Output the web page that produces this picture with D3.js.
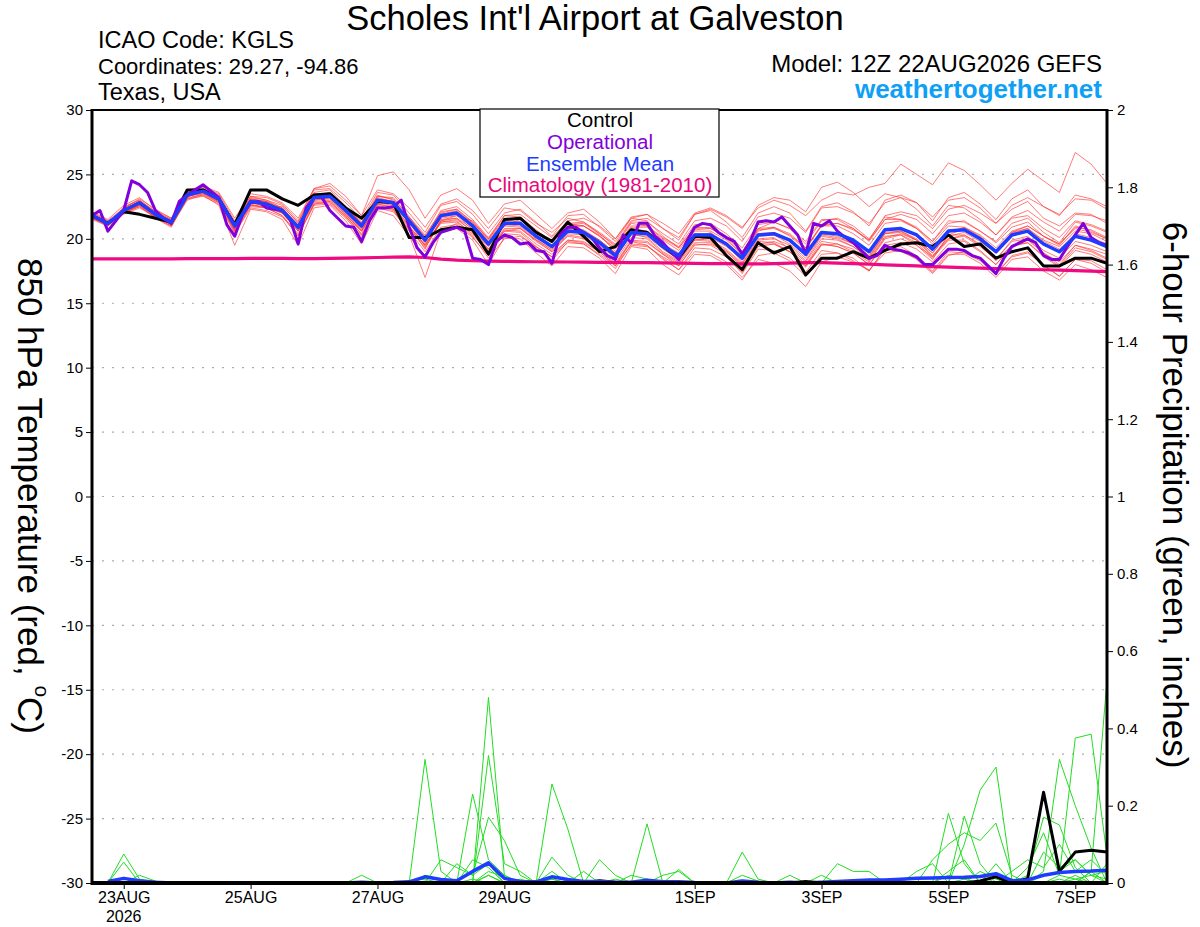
<!DOCTYPE html>
<html>
<head>
<meta charset="utf-8">
<title>KGLS GEFS 850 hPa temperature</title>
<script src="https://cdn.jsdelivr.net/npm/d3@7/dist/d3.min.js"></script>
<style>
  body { margin: 0; background: #fff; }
  svg { font-family: "Liberation Sans", Arial, Helvetica, sans-serif; }
</style>
</head>
<body>
<svg id="chart" width="1200" height="927"></svg>
<script>
// ---- data (6-hourly from 12Z 22AUG2026, operational is 3-hourly) ----
var runStart = Date.UTC(2026, 7, 22, 12);
var runEnd = Date.UTC(2026, 8, 7, 12);
var tempTicks = [-30, -25, -20, -15, -10, -5, 0, 5, 10, 15, 20, 25, 30];
var precipTicks = [0, 0.2, 0.4, 0.6, 0.8, 1, 1.2, 1.4, 1.6, 1.8, 2];
var dateTicks = [[2026, 7, 23], [2026, 7, 25], [2026, 7, 27], [2026, 7, 29],
                 [2026, 8, 1], [2026, 8, 3], [2026, 8, 5], [2026, 8, 7]];
var legendItems = ["Control", "Operational", "Ensemble Mean", "Climatology (1981-2010)"];

var controlT = [21.8,21.2,22.1,21.9,21.6,21.3,23.8,23.8,23.1,21.1,23.8,23.8,23.1,22.6,23.4,23.5,22.4,21.6,22.9,22.8,20.1,20.1,
  20.7,20.9,20.7,18.8,21.5,21.6,20.5,19.8,21.3,20.2,19.0,19.4,20.7,20.5,19.4,18.5,20.2,20.1,18.7,17.6,19.7,
  18.9,19.4,17.2,18.5,18.5,19.0,18.5,19.1,19.6,19.7,19.4,20.3,19.4,19.6,18.5,19.0,19.3,17.9,17.9,18.5,18.5,18.1];

var operationalT = [21.8,22.2,20.6,21.4,22.2,24.5,24.2,23.6,22.2,21.6,21.2,22.9,23.4,23.8,24.2,23.7,23.2,21.1,20.2,21.9,
  22.8,22.9,22.4,22.3,22.2,21.5,19.6,22.4,23.2,23.2,22.2,21.6,21.0,20.9,19.8,21.4,22.4,22.4,22.5,23.0,20.9,19.3,18.6,
  19.7,20.5,20.7,20.9,20.6,18.5,18.4,18.0,19.8,20.3,20.1,19.6,19.7,19.1,19.0,18.1,20.3,20.9,20.9,20.5,20.1,19.3,18.7,
  18.4,20.3,19.7,21.2,21.2,20.2,19.7,19.0,18.4,19.8,20.9,21.2,21.1,20.5,20.1,19.8,18.8,19.8,21.3,
  21.4,21.3,21.7,21.0,20.3,18.8,21.2,21.0,21.4,20.6,20.1,19.7,19.1,18.5,18.7,19.5,19.2,19.1,18.9,18.6,18.0,18.0,
  18.6,19.2,19.2,19.1,18.7,18.5,17.9,17.3,18.5,19.4,19.7,20.0,19.7,18.7,18.4,18.4,19.4,20.3,21.2,20.1,19.7,19.5];

var meanT = [21.8,21.2,22.2,22.8,21.9,21.3,23.4,23.7,23.1,21.0,22.9,22.7,22.2,20.9,23.2,23.3,22.2,21.0,23.0,22.8,21.4,19.9,
  21.8,22.0,21.0,19.6,21.2,21.2,20.2,19.4,20.6,20.5,19.7,18.7,20.5,20.4,19.4,18.7,20.3,20.3,19.6,18.5,20.3,
  20.4,19.9,18.8,20.5,20.4,19.9,19.0,20.7,20.8,20.3,19.2,20.6,20.7,20.0,19.0,20.3,20.6,19.6,19.0,20.2,19.9,19.4];

var climatologyT = [18.45,18.45,18.45,18.45,18.45,18.45,18.46,18.46,18.47,18.47,
  18.48,18.48,18.48,18.47,18.47,18.48,18.5,18.52,18.55,18.58,
  18.6,18.55,18.42,18.34,18.3,18.27,18.25,18.23,18.22,18.21,
  18.2,18.19,18.18,18.17,18.16,18.15,18.14,18.12,18.1,18.08,
  18.07,18.05,18.05,18.08,18.12,18.15,18.15,18.12,18.08,18.03,
  17.98,17.94,17.9,17.85,17.8,17.76,17.72,17.68,17.65,17.62,
  17.6,17.57,17.53,17.49,17.45];

var memberT = [
  [21.6,21.0,22.5,23.0,22.1,21.5,23.8,24.0, 23.5,21.4,23.3,23.0,22.6,21.2,23.8,23.9, 22.8,21.5,23.6,23.4,22.0,20.5,22.6,22.9,
   21.9,20.4,22.0,22.3,21.3,20.2,21.8,21.9, 20.9,19.8,21.6,21.9,20.8,19.9,21.9,22.2, 21.3,20.1,22.0,22.5,22.0,20.6,22.5,22.8,
   22.1,21.0,23.0,23.4,22.8,21.4,23.2,23.6, 22.7,21.5,23.1,23.8,22.5,21.8,23.4,23.1, 22.5],
  [22.0,21.4,22.0,22.5,21.6,21.0,23.1,23.3, 22.7,20.4,22.4,22.2,21.7,20.3,22.6,22.7, 21.6,20.2,22.4,22.1,20.6,19.0,20.9,21.1,
   20.1,18.7,20.4,20.3,19.3,18.3,19.8,19.6, 18.7,17.7,19.6,19.5,18.5,17.6,19.3,19.2, 18.6,17.3,19.2,19.1,18.5,17.4,19.1,18.9,
   18.3,17.5,19.2,19.0,18.5,17.4,18.8,18.8, 18.1,17.0,18.4,18.6,17.5,16.8,18.0,17.6, 17.0],
  [21.7,21.1,22.4,23.1,22.3,21.6,23.5,23.6, 22.9,20.6,22.6,22.5,22.5,21.3,23.6,23.8, 22.5,21.2,23.1,22.9,21.3,19.4,21.4,21.8,
   21.4,20.0,21.8,21.9,21.0,20.1,21.4,21.6, 21.0,20.0,21.7,21.9,21.2,20.4,22.0,22.4, 21.8,20.9,22.4,23.0,22.6,21.8,23.0,23.6,
   23.4,24.0,24.3,25.8,25.0,24.2,25.9,25.3, 24.2,23.0,24.3,25.4,24.5,23.6,26.7,25.8, 24.3],
  [21.9,21.3,22.1,22.6,21.8,21.2,23.2,23.9, 23.3,20.8,23.0,22.9,22.0,20.6,23.0,23.2, 22.0,20.7,22.8,22.6,21.0,19.2,21.5,21.6,
   20.8,19.2,21.0,21.5,20.5,19.9,21.2,21.0, 20.3,19.0,20.8,20.6,19.7,18.6,20.0,20.5, 19.6,18.2,20.0,20.1,19.2,18.0,19.8,19.6,
   19.0,18.2,20.0,20.3,19.5,18.4,20.3,20.8, 20.1,18.9,20.5,21.0,20.2,19.5,21.0,20.6, 20.0],
  [21.5,21.0,21.9,22.4,21.7,21.0,23.0,23.4, 22.8,20.5,22.5,22.4,21.8,20.2,22.7,22.9, 21.8,20.3,22.5,22.3,20.3,17.0,20.6,21.2,
   20.2,18.5,20.0,20.2,19.4,18.6,19.9,19.8, 19.0,18.0,19.8,19.7,18.8,17.9,19.6,19.5, 18.8,17.4,19.4,19.6,19.0,17.8,19.5,19.6,
   19.2,18.3,20.1,20.4,19.9,18.6,20.0,20.3, 19.6,18.4,19.8,20.0,18.9,18.2,19.5,19.2, 18.8],
  [22.1,21.5,22.6,23.2,22.2,21.6,23.7,24.1, 23.6,21.6,23.5,23.3,22.8,21.6,23.9,24.1, 23.0,21.8,23.8,23.5,22.4,20.9,22.7,23.1,
   22.2,20.8,22.4,22.2,21.2,20.5,21.6,21.3, 20.4,19.4,21.2,21.0,20.0,19.3,20.9,20.8, 20.2,19.0,20.8,21.3,20.8,19.6,21.4,21.6,
   21.0,20.0,21.7,21.5,20.9,19.8,21.4,21.3, 20.6,19.8,21.2,21.6,20.5,19.7,21.3,21.0, 20.5],
  [21.8,21.2,22.0,22.7,21.8,21.1,23.3,23.5, 22.9,20.7,22.8,22.6,22.0,20.7,22.9,23.0, 21.9,20.6,22.6,22.3,20.8,19.3,21.3,21.5,
   20.6,19.0,20.7,20.6,19.6,18.8,19.9,19.7, 19.0,17.9,19.8,19.5,18.4,17.6,19.0,18.9, 18.2,17.0,18.4,18.1,17.5,16.3,18.2,18.6,
   18.2,17.6,18.9,19.1,18.4,17.3,18.7,19.0, 18.5,17.4,18.6,18.9,18.0,17.1,18.4,18.3, 17.6],
  [21.6,21.2,22.3,22.9,22.0,21.4,23.6,23.8, 23.2,21.3,23.3,23.2,22.7,21.4,23.9,24.3, 23.3,21.8,24.9,25.2,23.8,21.6,23.4,23.9,
   23.0,21.2,22.7,23.0,21.9,20.8,22.0,22.3, 21.3,20.0,21.6,21.4,20.2,19.3,20.8,20.9, 20.0,18.8,20.6,20.9,20.2,19.2,21.0,21.2,
   20.8,19.9,21.5,21.9,21.5,20.4,21.8,22.0, 21.3,20.3,21.7,22.2,21.3,20.6,21.9,21.8, 21.4],
  [21.9,21.3,22.2,22.8,21.9,21.4,23.3,23.7, 23.0,20.9,23.0,22.6,22.1,20.8,23.1,23.2, 22.0,20.8,22.9,22.7,21.3,19.7,21.6,21.8,
   20.7,19.4,21.0,20.9,19.9,19.0,20.3,20.1, 19.2,18.3,20.1,20.0,18.9,18.2,19.9,19.8, 19.1,18.0,19.9,20.0,19.5,18.3,20.2,20.0,
   19.4,18.6,20.4,20.5,19.9,18.7,20.0,20.2, 19.4,18.4,19.9,20.2,19.1,18.5,19.8,19.5, 19.0],
  [21.7,21.1,22.3,22.9,22.0,21.3,23.5,23.8, 23.1,21.1,23.1,22.9,22.4,21.0,23.4,23.6, 22.4,21.2,23.3,23.2,21.7,20.1,22.2,22.5,
   21.5,20.1,21.8,21.7,20.7,19.8,21.1,21.2, 20.4,19.5,21.3,21.3,20.4,19.6,21.4,21.6, 21.0,19.8,21.7,22.0,21.6,20.5,22.4,22.5,
   22.0,21.2,22.8,23.2,22.8,21.7,23.0,23.2, 22.4,21.2,22.3,22.9,21.6,21.0,22.0,21.9, 21.2],
  [21.8,21.3,22.1,22.7,21.7,21.2,23.4,23.6, 23.0,20.6,22.7,22.4,22.0,20.6,22.8,22.9, 21.7,20.4,22.5,22.2,20.7,19.5,21.3,21.4,
   20.3,19.0,20.6,20.8,19.9,19.2,20.5,20.6, 19.8,18.8,20.4,20.1,19.0,18.3,19.9,20.1, 19.4,18.4,20.2,20.3,19.6,18.5,20.3,20.1,
   19.6,18.5,20.4,20.6,19.9,18.9,20.5,20.9, 20.3,19.3,20.6,21.0,20.2,19.6,20.9,20.7, 20.1],
  [21.7,21.0,22.1,22.6,21.6,20.9,23.2,23.4, 22.6,19.5,22.3,22.1,21.5,19.5,22.4,22.6, 21.4,19.6,22.2,21.8,20.2,18.6,20.7,20.8,
   19.9,18.0,20.1,20.0,18.9,17.9,19.4,19.3, 18.5,17.3,19.4,19.2,18.0,17.2,18.8,18.7, 18.0,16.8,18.7,18.9,18.3,17.1,18.8,18.9,
   18.5,17.5,19.3,19.4,18.7,17.5,19.0,18.9, 18.3,17.2,18.7,19.0,17.9,17.1,18.4,18.1, 17.4],
  [22.0,21.4,22.4,23.0,22.1,21.5,23.6,23.9, 23.4,21.2,23.2,23.0,22.4,21.1,23.5,23.5, 22.5,21.3,23.4,23.0,21.6,20.2,22.0,22.3,
   21.3,19.9,21.5,21.6,20.6,19.7,21.0,21.0, 20.2,19.2,20.9,20.9,19.9,19.1,20.7,20.8, 20.1,19.0,20.8,20.9,20.4,19.3,21.0,21.0,
   20.4,19.5,21.2,21.4,20.8,19.8,21.2,21.4, 20.6,19.7,20.9,21.3,20.2,19.6,20.8,20.5, 20.0],
  [21.6,21.1,22.0,22.5,21.7,21.1,23.1,23.5, 22.8,20.8,22.6,22.4,21.8,20.4,22.7,22.8, 21.7,20.6,22.7,22.4,20.9,19.6,21.2,21.3,
   20.4,19.2,20.6,20.5,19.4,18.6,19.7,19.6, 18.8,17.9,19.5,19.4,18.6,17.9,19.5,19.6, 19.0,17.9,19.6,19.6,19.0,17.9,19.6,19.4,
   18.9,18.0,19.5,19.7,19.2,18.2,19.6,19.8, 19.0,18.0,19.5,19.9,18.9,18.0,19.5,19.1, 18.5],
  [21.9,21.2,22.3,22.9,22.0,21.4,23.4,23.7, 23.1,21.0,22.9,22.8,22.3,21.0,23.3,23.5, 22.3,21.0,23.1,22.9,21.4,19.9,21.9,22.2,
   21.2,19.8,21.4,21.5,20.6,19.8,21.2,21.3, 20.5,19.6,21.4,21.6,20.8,20.1,21.9,22.3, 21.7,20.8,22.6,23.2,23.0,22.1,24.0,24.4,
   23.6,22.5,23.5,23.2,22.3,21.0,22.6,22.4, 21.5,20.3,21.6,21.8,20.8,20.1,21.4,21.1, 20.6],
  [21.8,21.2,22.2,22.8,21.9,21.3,23.3,23.6, 23.0,20.9,22.9,22.6,22.1,20.8,23.1,23.2, 22.1,20.9,22.9,22.7,21.2,19.8,21.7,21.9,
   20.9,19.5,21.1,21.0,20.0,19.1,20.4,20.3, 19.5,18.5,20.3,20.2,19.2,18.4,20.0,19.9, 19.2,18.1,19.8,19.7,19.0,17.9,19.6,19.4,
   18.9,18.0,19.7,20.0,19.5,18.6,20.2,20.5, 19.8,18.9,20.4,20.8,19.9,19.4,20.6,20.4, 19.8],
  [21.7,21.1,22.0,22.6,21.8,21.2,23.4,23.8, 23.2,21.1,23.1,22.9,22.3,20.9,23.2,23.4, 22.2,21.0,23.0,22.8,21.5,20.0,21.9,22.1,
   21.1,19.7,21.3,21.2,20.2,19.4,20.7,20.6, 19.9,18.9,20.6,20.5,19.6,18.8,20.4,20.4, 19.7,18.5,20.4,20.5,19.9,18.7,20.4,20.2,
   19.6,18.7,20.5,20.6,20.0,18.9,20.3,20.3, 19.5,18.3,19.5,19.7,18.6,17.8,19.1,18.8, 18.2],
  [21.8,21.3,22.3,22.9,22.0,21.4,23.5,23.8, 23.2,21.2,23.1,22.8,22.3,21.0,23.3,23.4, 22.3,21.1,23.2,22.9,21.5,20.0,21.9,22.0,
   21.0,19.7,21.3,21.3,20.3,19.5,20.8,20.7, 19.9,18.9,20.7,20.6,19.6,18.9,20.6,20.6, 19.9,18.8,20.7,20.8,20.3,19.3,21.1,21.2,
   20.7,19.9,21.8,22.1,21.8,20.8,22.3,22.6, 22.0,21.2,22.6,23.2,22.5,21.9,23.1,23.0, 22.3],
  [21.9,21.2,22.1,22.7,21.9,21.3,23.3,23.6, 22.9,20.8,22.8,22.5,22.0,20.6,23.0,23.1, 21.9,20.6,22.7,22.5,21.0,19.5,21.4,21.6,
   20.5,19.1,20.8,20.8,19.8,19.0,20.2,20.0, 19.1,18.1,19.9,19.8,18.8,18.1,19.7,19.7, 19.0,17.8,19.6,19.8,19.3,18.2,20.0,19.9,
   19.4,18.4,20.2,20.3,19.7,18.5,19.9,19.9, 19.1,18.0,19.4,19.7,18.7,17.9,19.3,19.0, 18.4],
  [21.7,21.2,22.2,22.8,22.0,21.3,23.5,23.7, 23.1,21.0,22.9,22.8,22.3,21.0,23.4,23.5, 22.4,21.2,23.3,23.1,21.7,20.3,22.1,22.3,
   21.3,20.0,21.6,21.5,20.5,19.7,21.0,21.0, 20.2,19.3,21.0,21.0,20.1,19.4,21.1,21.2, 20.4,19.3,21.1,21.3,20.8,19.8,21.5,21.5,
   20.8,19.8,21.5,21.5,20.8,19.6,21.0,20.9, 20.2,19.1,20.5,20.8,19.8,19.2,20.4,20.1, 19.6]
];

// 6-hour precipitation, inches (index 0 = analysis, not drawn)
var memberP = [
  [0,0,0.075,0.01,0,0,0,0,0,0, 0,0,0,0,0,0,0,0,0,0, 0,0.32,0.03,0,0,0.02,0,0,0,0.01, 0,0,0,0,0,0,0,0,0,0,
   0,0,0,0,0,0,0,0,0,0, 0,0,0,0,0.02,0.01,0,0.05,0,0, 0.03,0.32,0.2,0.09,0],
  [0,0,0.054,0,0,0,0,0,0,0, 0,0,0,0,0,0,0,0,0,0, 0,0,0,0,0.23,0.06,0.02,0,0,0, 0,0,0,0.01,0,0,0,0,0,0,
   0,0,0,0,0,0,0.02,0,0,0, 0,0,0,0,0,0.1,0.24,0.3,0.01,0, 0,0,0.02,0,0],
  [0,0,0,0.02,0.005,0,0,0,0,0, 0,0,0,0,0,0,0,0,0,0, 0,0,0,0,0,0.48,0.02,0,0,0.067, 0.02,0,0,0,0,0,0,0,0,0,
   0,0,0,0,0,0,0,0,0,0, 0,0,0,0,0,0,0,0,0,0, 0,0.02,0.375,0.385,0.07],
  [0,0,0,0,0,0,0,0,0,0, 0,0,0,0,0,0,0,0,0,0, 0,0,0,0,0,0.33,0.05,0.03,0,0, 0,0,0,0,0,0,0,0,0,0,
   0,0.08,0.01,0,0,0,0,0,0,0, 0,0,0,0,0.18,0.05,0,0,0,0.02, 0.17,0.15,0.04,0,0],
  [0,0,0,0,0,0,0,0,0,0, 0,0,0,0,0,0,0,0,0,0, 0,0,0.06,0.04,0.02,0.17,0.11,0.02,0,0, 0,0,0,0,0,0.153,0,0.035,0,0,
   0,0,0,0,0,0,0,0,0,0, 0,0,0,0,0,0.173,0.05,0,0,0, 0,0,0,0.03,0.525],
  [0,0,0,0,0,0,0,0,0,0, 0,0,0,0,0,0,0,0,0,0, 0,0,0,0,0,0,0,0,0,0.256, 0.14,0,0.06,0.02,0,0,0,0,0,0,
   0,0,0,0,0,0,0,0,0,0, 0,0,0,0.06,0.1,0.13,0.11,0.155,0.02,0, 0,0,0,0,0.05],
  [0,0,0,0,0,0,0,0,0,0, 0,0,0,0,0,0,0,0.02,0,0, 0,0.02,0.01,0,0.06,0.04,0,0,0,0, 0,0.03,0,0,0,0,0,0,0,0,
   0,0,0,0,0,0,0,0.05,0.03,0.03, 0,0,0,0,0,0,0,0,0,0, 0.08,0.04,0.06,0.02,0],
  [0,0,0,0,0,0,0,0,0,0, 0,0,0,0,0,0,0,0,0,0, 0.005,0.01,0,0.05,0.02,0.05,0,0,0,0, 0,0,0,0,0,0,0.02,0.03,0,0,
   0,0,0,0,0,0,0,0,0,0, 0,0,0.03,0.05,0,0,0,0,0.03,0.06, 0.04,0.1,0.03,0.06,0.02],
  [0,0,0,0,0,0,0,0,0,0, 0,0,0,0,0,0,0,0,0,0, 0,0,0,0,0,0.03,0.015,0,0,0, 0,0,0,0,0.02,0.01,0,0,0,0,
   0,0,0,0,0.02,0,0,0,0,0, 0,0,0,0,0,0,0.03,0.01,0,0.04, 0.13,0.02,0.01,0,0],
  [0,0,0,0,0,0,0,0,0,0, 0,0,0,0,0,0,0,0,0,0, 0,0,0,0,0,0,0,0.01,0,0.03, 0,0,0,0,0,0,0,0,0,0,
   0,0.02,0.005,0,0,0,0,0,0,0, 0,0,0,0,0.03,0.06,0,0,0,0, 0.02,0.03,0.06,0.02,0.01],
  [0,0,0,0,0,0,0,0,0,0, 0,0,0,0,0,0,0,0,0,0, 0,0.005,0,0,0,0,0,0,0,0, 0,0,0,0,0,0,0,0,0,0,
   0,0,0,0,0,0,0,0,0,0, 0,0,0,0,0,0,0,0.02,0.01,0, 0,0,0,0,0],
  [0,0,0,0,0,0,0,0,0,0, 0,0,0,0,0,0,0,0,0,0, 0,0,0,0,0,0.02,0,0,0,0, 0,0,0,0,0,0,0,0,0,0,
   0,0,0,0,0,0,0,0,0,0, 0,0,0,0,0,0,0,0,0,0, 0,0.01,0,0.03,0],
  [0,0,0,0,0,0,0,0,0,0, 0,0,0,0,0,0,0,0,0,0, 0,0,0,0,0.01,0,0,0,0,0.01, 0,0,0,0,0,0,0,0,0,0,
   0,0,0,0,0,0,0,0,0,0, 0,0,0,0,0,0.01,0.02,0,0,0, 0,0,0.01,0.02,0.03]
];

var controlP = [0,0,0,0,0,0,0,0,0,0, 0,0,0,0,0,0,0,0,0,0, 0,0,0,0,0,0,0,0,0,0,
  0,0,0.006,0.002,0,0,0,0,0,0, 0,0,0,0,0,0.004,0,0,0,0,
  0,0,0,0,0,0,0.005,0.016,0,0.012, 0.235,0.03,0.08,0.085,0.08];

var meanP = [0,0.004,0.012,0.006,0.002,0,0,0,0,0, 0,0,0,0,0,0,0,0.002,0,0.001,
  0.003,0.016,0.009,0.006,0.03,0.052,0.012,0.004,0.003,0.016,
  0.009,0.004,0.004,0.002,0.002,0.007,0.003,0.003,0.001,0,
  0,0.005,0.002,0,0.002,0,0.002,0.004,0.006,0.008,
  0.008,0.01,0.012,0.013,0.014,0.015,0.017,0.024,0.006,0.008,
  0.02,0.027,0.03,0.031,0.033];

// ---- chart ----
var plotL = 92, plotR = 1107, plotT = 110, plotB = 883;
var svg = d3.select("#chart");

var x = d3.scaleUtc().domain([runStart, runEnd]).range([plotL, plotR]);
var yT = d3.scaleLinear().domain([-30, 30]).range([plotB, plotT]);
var yP = d3.scaleLinear().domain([0, 2]).range([plotB, plotT]);

function atHour(h) { return new Date(runStart + h * 3600000); }

var line6 = d3.line().x(function(d, i){ return x(atHour(i * 6)); }).y(function(d){ return yT(d); });
var line3 = d3.line().x(function(d, i){ return x(atHour(i * 3)); }).y(function(d){ return yT(d); });
var lineP = d3.line().defined(function(d, i){ return i > 0; })
  .x(function(d, i){ return x(atHour(i * 6)); }).y(function(d){ return yP(d); });

svg.append("defs").append("clipPath").attr("id", "plot")
  .append("rect").attr("x", plotL).attr("y", plotT).attr("width", plotR - plotL).attr("height", plotB - plotT);

// dotted grid
svg.append("g").selectAll("line").data(tempTicks.filter(function(v){ return v > -30 && v < 30; }))
  .join("line")
  .attr("x1", plotL).attr("x2", plotR)
  .attr("y1", function(d){ return yT(d); }).attr("y2", function(d){ return yT(d); })
  .attr("stroke", "#aaa").attr("stroke-width", 1.2).attr("stroke-dasharray", "2,8");

var plot = svg.append("g").attr("clip-path", "url(#plot)");

plot.append("g").selectAll("path").data(memberT).join("path")
  .attr("d", line6).attr("fill", "none")
  .attr("stroke", "#ff3030").attr("stroke-opacity", 0.75).attr("stroke-width", 0.85);

plot.append("g").selectAll("path").data(memberP).join("path")
  .attr("d", lineP).attr("fill", "none")
  .attr("stroke", "#22dd22").attr("stroke-width", 1);

plot.append("path").attr("d", line6(climatologyT)).attr("fill", "none")
  .attr("stroke", "#f00a82").attr("stroke-width", 3.2);
plot.append("path").attr("d", lineP(controlP)).attr("fill", "none")
  .attr("stroke", "#000").attr("stroke-width", 3).attr("stroke-linejoin", "round");
plot.append("path").attr("d", lineP(meanP)).attr("fill", "none")
  .attr("stroke", "#1e3cff").attr("stroke-width", 3.5).attr("stroke-linejoin", "round");
plot.append("path").attr("d", line6(controlT)).attr("fill", "none")
  .attr("stroke", "#000").attr("stroke-width", 3).attr("stroke-linejoin", "round");
plot.append("path").attr("d", line3(operationalT)).attr("fill", "none")
  .attr("stroke", "#8200dc").attr("stroke-width", 3).attr("stroke-linejoin", "round");
plot.append("path").attr("d", line6(meanT)).attr("fill", "none")
  .attr("stroke", "#1e3cff").attr("stroke-width", 3.5).attr("stroke-linejoin", "round");

// axes
var gL = svg.append("g").attr("transform", "translate(" + plotL + ",0)")
  .call(d3.axisLeft(yT).tickValues(tempTicks).tickSize(6).tickPadding(3).tickFormat(function(d){ return String(d); }));
var gR = svg.append("g").attr("transform", "translate(" + plotR + ",0)")
  .call(d3.axisRight(yP).tickValues(precipTicks).tickSize(6).tickPadding(4).tickFormat(function(d){ return String(d); }));
var gB = svg.append("g").attr("transform", "translate(0," + plotB + ")")
  .call(d3.axisBottom(x).tickValues(dateTicks.map(function(d){ return new Date(Date.UTC(d[0], d[1], d[2])); }))
    .tickSize(6).tickPadding(3).tickFormat(function(d){ return d3.utcFormat("%-d%b")(d).toUpperCase(); }));
[gL, gR, gB].forEach(function(g){
  g.select(".domain").remove();
  g.attr("font-family", null).attr("font-size", null);
  g.selectAll("text").attr("font-size", 15).attr("fill", "#000");
  g.selectAll("line").attr("stroke", "#000");
});
gB.selectAll("text").attr("font-size", 16);
svg.append("text").attr("x", x(new Date(Date.UTC(2026, 7, 23)))).attr("y", 922)
  .attr("text-anchor", "middle").attr("font-size", 16).text("2026");

// frame
svg.append("line").attr("x1", plotL).attr("x2", plotR).attr("y1", plotT).attr("y2", plotT).attr("stroke", "#000").attr("stroke-width", 2);
svg.append("line").attr("x1", plotL).attr("x2", plotL).attr("y1", plotT - 1).attr("y2", plotB + 2).attr("stroke", "#000").attr("stroke-width", 3);
svg.append("line").attr("x1", plotR).attr("x2", plotR).attr("y1", plotT - 1).attr("y2", plotB + 2).attr("stroke", "#000").attr("stroke-width", 3);
svg.append("line").attr("x1", plotL).attr("x2", plotR).attr("y1", plotB).attr("y2", plotB).attr("stroke", "#000").attr("stroke-width", 4);

// legend
var legendColors = ["#000", "#8200dc", "#1e3cff", "#e8087c"];
svg.append("rect").attr("x", 480).attr("y", 109).attr("width", 239).attr("height", 88)
  .attr("fill", "#fff").attr("stroke", "#000").attr("stroke-width", 1.2);
svg.append("g").selectAll("text").data(legendItems).join("text")
  .attr("x", 600).attr("y", function(d, i){ return 127 + i * 21.8; })
  .attr("text-anchor", "middle").attr("font-size", 20.5)
  .attr("fill", function(d, i){ return legendColors[i]; }).text(function(d){ return d; });

// titles
svg.append("text").attr("x", 595).attr("y", 30).attr("text-anchor", "middle").attr("font-size", 34.5)
  .text("Scholes Int'l Airport at Galveston");
var info = ["ICAO Code: KGLS", "Coordinates: 29.27, -94.86", "Texas, USA"];
var infoSize = [23.5, 22, 23.5];
svg.append("g").selectAll("text").data(info).join("text")
  .attr("x", 98).attr("y", function(d, i){ return 48 + i * 26; })
  .attr("font-size", function(d, i){ return infoSize[i]; }).text(function(d){ return d; });
svg.append("text").attr("x", 1102).attr("y", 72).attr("text-anchor", "end").attr("font-size", 24)
  .text("Model: 12Z 22AUG2026 GEFS");
svg.append("text").attr("x", 1102).attr("y", 98).attr("text-anchor", "end").attr("font-size", 26)
  .attr("font-weight", "bold").attr("fill", "#0fa0f5").text("weathertogether.net");

var yLab = svg.append("text").attr("transform", "translate(31,496) rotate(90)")
  .attr("text-anchor", "middle").attr("dominant-baseline", "central").attr("font-size", 35);
yLab.append("tspan").text("850 hPa Temperature (red, ");
yLab.append("tspan").attr("font-size", 21).attr("baseline-shift", "super").text("o");
yLab.append("tspan").text("C)");

svg.append("text").attr("transform", "translate(1175,495) rotate(90)")
  .attr("text-anchor", "middle").attr("dominant-baseline", "central").attr("font-size", 35)
  .text("6-hour Precipitation (green, inches)");
</script>
</body>
</html>
